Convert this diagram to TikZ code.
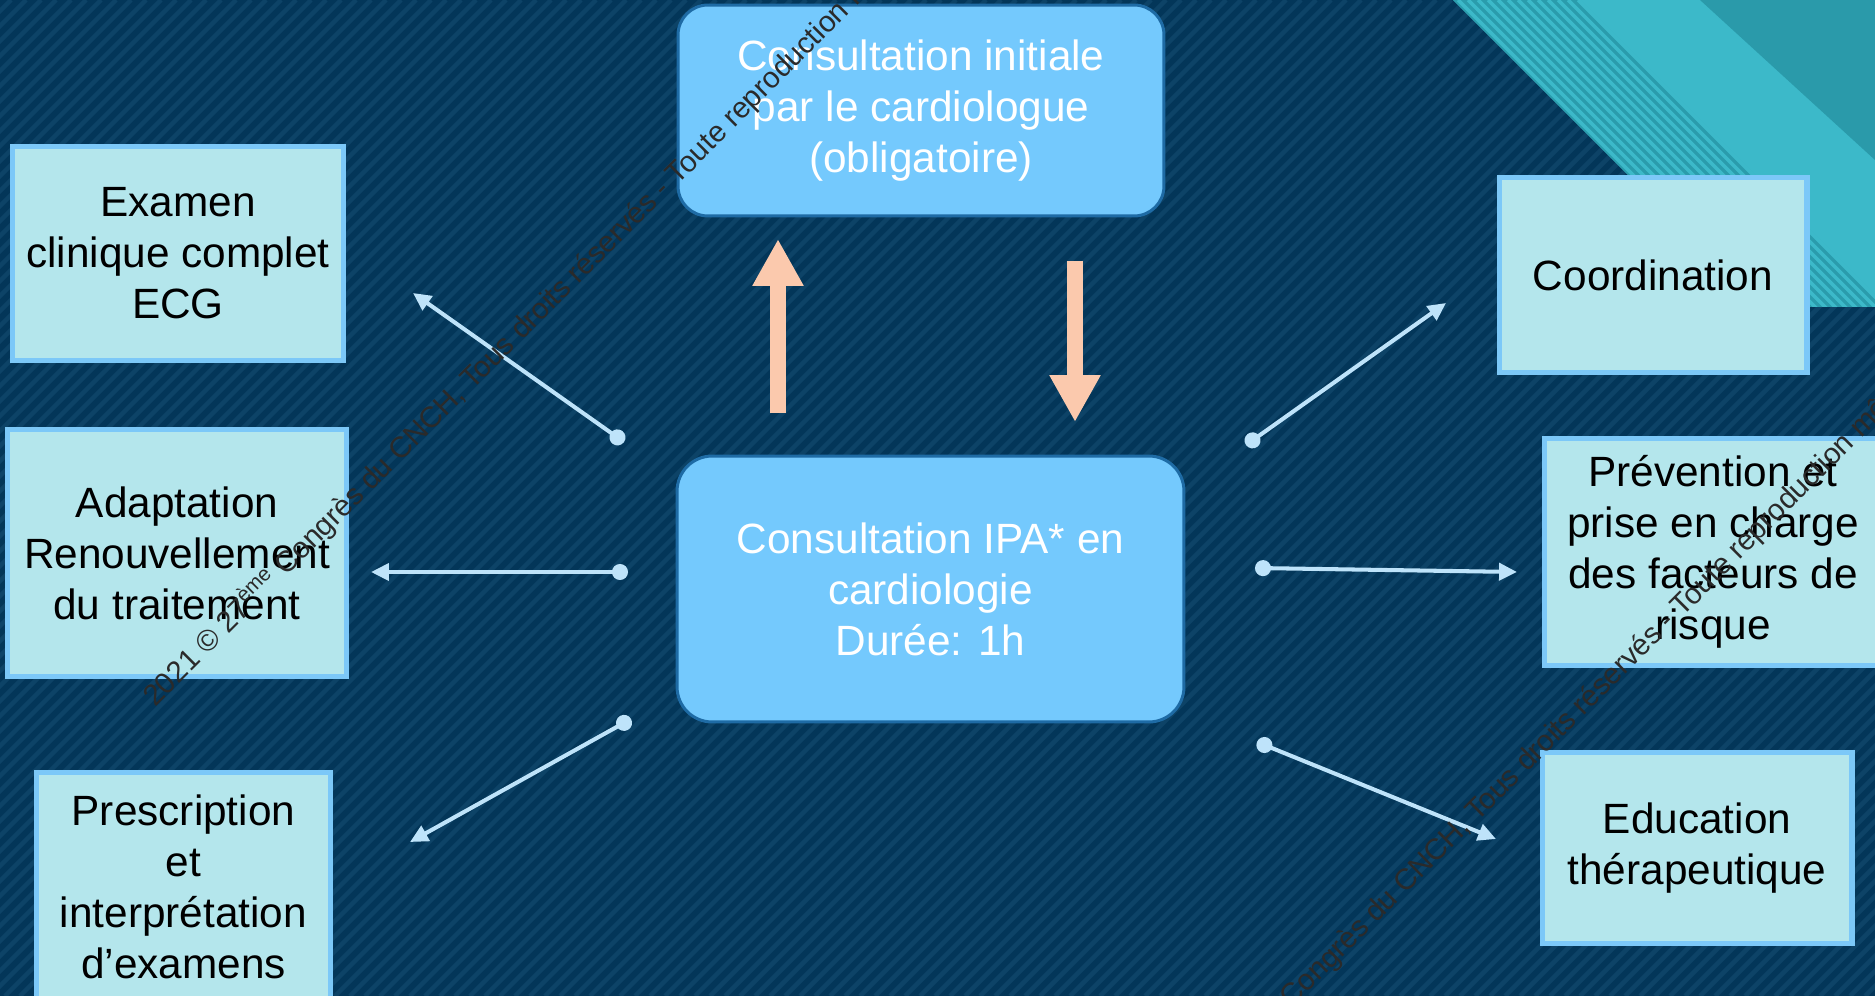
\documentclass[tikz,border=0pt]{standalone}
\usepackage{fontspec}
\setmainfont{Liberation Sans}
\usetikzlibrary{arrows.meta}
\definecolor{bgnavy}{HTML}{033659}
\definecolor{bgstripe}{HTML}{0D4367}
\definecolor{tealA}{HTML}{3CB9C9}
\definecolor{tealB}{HTML}{2A9CAC}
\definecolor{tealC}{HTML}{2A9AAA}
\definecolor{boxfill}{HTML}{B4E6EC}
\definecolor{boxline}{HTML}{7CC8F8}
\definecolor{rfill}{HTML}{74C9FD}
\definecolor{rline}{HTML}{1E6BA5}
\definecolor{conn}{HTML}{BEE3FA}
\definecolor{peach}{HTML}{FBC9AD}
\definecolor{wmark}{HTML}{2A2A2A}
\newcommand\pxu{0.56906pt}
\begin{document}
\begin{tikzpicture}[x=0.02cm,y=-0.02cm,
  lbox/.style={draw=boxline, fill=boxfill, line width=2.85pt, inner sep=0pt,
    align=center, text=black, font=\fontsize{24.1}{29}\selectfont},
  rbox/.style={draw=rline, fill=rfill, line width=1.7pt, inner sep=0pt,
    align=center, text=white, font=\fontsize{24.1}{29}\selectfont},
  link/.style={draw=conn, line width=2.3pt,
    {Circle[length=9.1pt]}-{Triangle[length=10.2pt,width=9.6pt]}},
  bigarrow/.style={draw=peach, line width=9.1pt,
    -{Triangle[length=26.7pt,width=27.3pt]}},
  wm/.style={text=wmark, font=\fontsize{16.8}{20}\selectfont, rotate=45,
    anchor=base west, inner sep=0pt}
]
\useasboundingbox (0,0) rectangle (1875,996);
\clip (0,0) rectangle (1875,996);
% background with stripes
\fill[bgnavy] (0,0) rectangle (1875,996);
\foreach \i in {-1000,-985,...,1875}
  \draw[bgstripe, line width=2.6pt] (\i,996) -- ++(996,-996);
% top-right decoration
\begin{scope}
  \clip (1453,0) -- (1875,0) -- (1875,307) -- (1760,307) -- cycle;
  \fill[tealA] (1453,0) -- (1875,0) -- (1875,307) -- (1760,307) -- cycle;
  \fill[tealC] (1700,0) -- (1875,0) -- (1875,160) -- cycle;
  \fill[tealB] (1453,0) -- (1580,0) -- (1887,307) -- (1760,307) -- cycle;
  \foreach \o in {5,15,...,125}
    \draw[tealA, line width=2pt] (1453+\o,0) -- ++(320,320);
\end{scope}
% boxes
\node[lbox, minimum width=332*\pxu, minimum height=215*\pxu] (exam) at (178,253.5)
  {Examen\\clinique complet\\ECG};
\node[lbox, minimum width=340*\pxu, minimum height=248*\pxu] (adapt) at (177,553)
  {Adaptation\\Renouvellement\\du traitement};
\node[lbox, minimum width=295*\pxu, minimum height=230*\pxu] (presc) at (183.5,887)
  {Prescription\\et\\interprétation\\d’examens};
\node[lbox, minimum width=308*\pxu, minimum height=196*\pxu] (coord) at (1653,275)
  {Coordination};
\node[lbox, minimum width=338*\pxu, minimum height=228*\pxu] (prev) at (1713,552)
  {Prévention et\\prise en charge\\des facteurs de\\risque};
\node[lbox, minimum width=310*\pxu, minimum height=192*\pxu] (educ) at (1697,848)
  {Education\\thérapeutique};
\node[rbox, rounded corners=17pt, minimum width=486*\pxu, minimum height=211*\pxu]
  (init) at (921,110.5) {Consultation initiale\\par le cardiologue\\(obligatoire)};
\node[rbox, rounded corners=20pt, minimum width=507*\pxu, minimum height=266*\pxu]
  (ipa) at (930.5,589) {Consultation IPA* en\\cardiologie\\Durée: 1h};
% big arrows
\coordinate (upS) at (778,413);
\coordinate (upT) at (778,239);
\coordinate (dnS) at (1075,261);
\coordinate (dnT) at (1075,422);
\draw[bigarrow] (upS) -- (upT);
\draw[bigarrow] (dnS) -- (dnT);
% connectors
\coordinate (c1s) at (624,442); \coordinate (c1t) at (413,293);
\coordinate (c2s) at (628,572); \coordinate (c2t) at (371,572);
\coordinate (c3s) at (631,719); \coordinate (c3t) at (410,842);
\coordinate (c4s) at (1246,445); \coordinate (c4t) at (1446,303);
\coordinate (c5s) at (1255,568); \coordinate (c5t) at (1517,572);
\coordinate (c6s) at (1257,742); \coordinate (c6t) at (1496,839);
\draw[link] (c1s) -- (c1t);
\draw[link] (c2s) -- (c2t);
\draw[link] (c3s) -- (c3t);
\draw[link] (c4s) -- (c4t);
\draw[link] (c5s) -- (c5t);
\draw[link] (c6s) -- (c6t);
% watermarks
\node[wm] (wm1) at (155,708)
  {2021 © 27\textsuperscript{ème} Congrès du CNCH, Tous droits réservés - Toute reproduction même};
\node[wm] (wm2) at (1160,1140)
  {2021 © 27\textsuperscript{ème} Congrès du CNCH, Tous droits réservés - Toute reproduction même};
\end{tikzpicture}
\end{document}
